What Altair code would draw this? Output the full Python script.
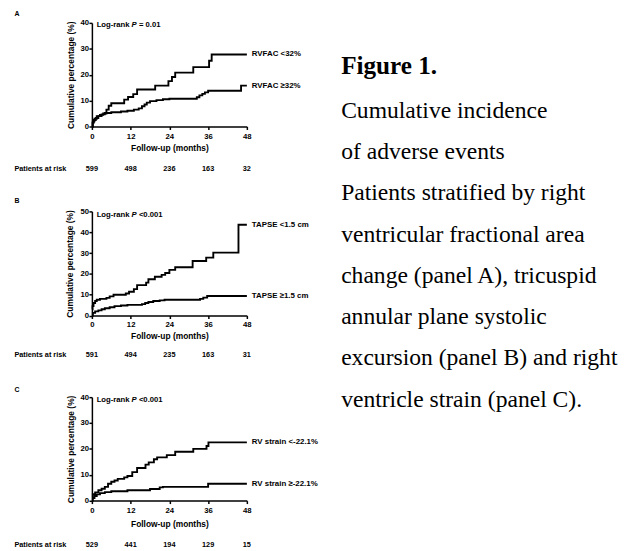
import altair as alt
import pandas as pd

# ---------------- data ----------------
month_ticks = [0, 12, 24, 36, 48]

# Panel A: RVFAC
a_names = ["RVFAC <32%", "RVFAC \u226532%"]
a_low_t = [0, 0.3, 0.8, 1.5, 2.5, 3.5, 4.5, 5.2, 6.0, 10.0, 11.2, 12.8, 14.0, 19.6, 23.7, 24.8, 25.8, 31.4, 36.3, 37.1, 48]
a_low_v = [0, 2, 3, 4, 4.5, 5, 6.5, 8, 9, 10.4, 11.4, 12.5, 14.3, 15.8, 17.5, 19.1, 20.8, 22.9, 25.4, 27.8, 27.8]
a_high_t = [0, 0.2, 0.6, 1.2, 2, 3, 4, 6, 9, 11, 13, 14.5, 15.5, 16.3, 17, 18, 20, 22, 24, 32.5, 33.3, 34.2, 35, 36, 46.2, 48]
a_high_v = [0, 1.5, 2.5, 3.3, 4, 4.7, 5.2, 5.5, 5.8, 6.1, 6.5, 7, 7.8, 8.5, 9.2, 9.8, 10.2, 10.5, 10.7, 11.3, 12, 12.6, 13.2, 13.8, 15.8, 15.8]
a_risk = [599, 498, 236, 163, 32]
a_p = "= 0.01"

# Panel B: TAPSE
b_names = ["TAPSE <1.5 cm", "TAPSE \u22651.5 cm"]
b_low_t = [0, 0.2, 0.5, 1, 1.5, 2.5, 4.5, 5.5, 6.7, 10.5, 11.5, 13, 14, 16.8, 17.5, 19.5, 21.6, 22.7, 24, 25.8, 31.2, 35.4, 37.6, 45.4, 48]
b_low_v = [3, 4.5, 6, 7, 7.6, 8, 8.5, 9.2, 10, 10.6, 11.4, 12.7, 14.6, 15.8, 17.4, 18.6, 19.5, 20.4, 21.9, 23.2, 26.2, 27.8, 30.2, 43.6, 43.6]
b_high_t = [0, 0.3, 1, 2, 3, 4, 5.5, 7, 9, 11, 15.5, 16.5, 17.5, 19, 21, 22.5, 33.5, 34.5, 35.7, 48]
b_high_v = [0, 1.3, 2, 2.5, 3, 3.5, 4, 4.5, 4.8, 5.1, 5.5, 6, 6.5, 7, 7.3, 7.6, 8, 8.6, 9.4, 9.4]
b_risk = [591, 494, 235, 163, 31]
b_p = "<0.001"

# Panel C: RV strain
c_names = ["RV strain <-22.1%", "RV strain \u2265-22.1%"]
c_low_t = [0, 0.3, 1, 2, 3, 4, 5, 6, 7, 8, 10, 11, 12.5, 14, 16.6, 17.6, 19.2, 20.2, 23.2, 25.8, 31.4, 35.5, 36.1, 48]
c_low_v = [1.7, 2.5, 3.2, 4, 4.6, 5.3, 6.5, 7.3, 7.8, 8.4, 9, 9.5, 11, 12.6, 13.9, 14.8, 16, 16.7, 17.6, 18.9, 20, 21.1, 22.5, 22.5]
c_high_t = [0, 0.3, 0.8, 1.5, 2.5, 4, 6, 11, 18, 21, 22, 36, 48]
c_high_v = [0, 1, 1.8, 2.4, 2.9, 3.3, 3.6, 4, 4.5, 5.1, 5.3, 6.5, 6.5]
c_risk = [529, 441, 194, 129, 15]
c_p = "<0.001"

caption_title = "Figure 1."
caption_lines = [
    "Cumulative incidence",
    "of adverse events",
    "Patients stratified by right",
    "ventricular fractional area",
    "change (panel A), tricuspid",
    "annular plane systolic",
    "excursion (panel B) and right",
    "ventricle strain (panel C).",
]

SANS = "Liberation Sans"
SERIF = "Liberation Serif"
W = 157


def panel(letter, names, series, risk, ptext, ymax, yticks, h, letter_y, xlab_pad,
          xtitle_y, ytitle_x, risk_y, lr_y, extra=None):
    rows = []
    for nm, (t, v) in zip(names, series):
        for ti, vi in zip(t, v):
            rows.append({"g": nm, "t": ti, "v": vi})
    df = pd.DataFrame(rows)
    common_axis = dict(domainColor="black", domainWidth=1.5, tickColor="black", tickWidth=1.5,
                       tickSize=3, labelFont=SANS, labelFontWeight="bold", labelFontSize=7.8,
                       labelColor="black", titleFont=SANS, titleFontWeight="bold",
                       titleFontSize=8.5, titleColor="black", grid=False, labelFlush=False,
                       labelOverlap=False)
    x = alt.X("t:Q", scale=alt.Scale(domain=[0, 48], nice=False),
              axis=alt.Axis(values=month_ticks, title="Follow-up (months)", labelPadding=xlab_pad,
                            titleX=W / 2, titleY=xtitle_y, titleBaseline="middle", **common_axis))
    y = alt.Y("v:Q", scale=alt.Scale(domain=[0, ymax], nice=False),
              axis=alt.Axis(values=yticks, title="Cumulative percentage (%)", labelPadding=0.5,
                            titleX=ytitle_x, titleY=h / 2, titleAngle=270, titleAlign="center",
                            titleBaseline="middle", **common_axis))
    lines = alt.Chart(df).mark_line(interpolate="step-after", color="black", strokeWidth=1.9).encode(
        x=x, y=y, detail="g:N")

    lab_df = pd.DataFrame({"g": names, "t": [48, 48], "v": [series[0][1][-1], series[1][1][-1]]})
    labs = alt.Chart(lab_df).mark_text(align="left", baseline="middle", dx=5, font=SANS,
                                       fontWeight="bold", fontSize=8, color="black").encode(
        x=x, y=y, text="g:N")

    one = pd.DataFrame({"a": [0]})
    tstyle = dict(font=SANS, fontWeight="bold", color="black", baseline="middle", align="left")
    lr1 = alt.Chart(one).mark_text(text="Log-rank", fontSize=7.8, **tstyle).encode(
        x=alt.value(4.8), y=alt.value(lr_y))
    lr2 = alt.Chart(one).mark_text(text="P", fontSize=7.8, fontStyle="italic", **tstyle).encode(
        x=alt.value(40.2), y=alt.value(lr_y))
    lr3 = alt.Chart(one).mark_text(text=ptext, fontSize=7.8, **tstyle).encode(
        x=alt.value(47.6), y=alt.value(lr_y))
    let = alt.Chart(one).mark_text(text=letter, fontSize=7, **tstyle).encode(
        x=alt.value(-78.5), y=alt.value(letter_y))
    par = alt.Chart(one).mark_text(text="Patients at risk", fontSize=7.4, **tstyle).encode(
        x=alt.value(-78.5), y=alt.value(risk_y))
    risk_df = pd.DataFrame({"t": month_ticks, "n": [str(r) for r in risk]})
    rk = alt.Chart(risk_df).mark_text(font=SANS, fontWeight="bold", fontSize=7.4, color="black",
                                      baseline="middle", align="center").encode(
        x=x, y=alt.value(risk_y), text="n:N")
    layers = [lines, labs, lr1, lr2, lr3, let, par, rk]
    if extra:
        layers += extra
    return alt.layer(*layers).properties(width=W, height=h)


one = pd.DataFrame({"a": [0]})
cap_title = alt.Chart(one).mark_text(text=caption_title, font=SERIF, fontWeight="bold", fontSize=25.5,
                                     color="black", align="left", baseline="alphabetic").encode(
    x=alt.value(252.5), y=alt.value(51.8))
cap_body = alt.Chart(one).mark_text(text=caption_lines, font=SERIF, fontSize=23.9, color="black",
                                    align="left", baseline="alphabetic", lineHeight=41.85).encode(
    x=alt.value(252.5), y=alt.value(96.0))

pA = panel("A", a_names, [(a_low_t, a_low_v), (a_high_t, a_high_v)], a_risk, a_p, 40,
           [0, 10, 20, 30, 40], 105, -9, 3, 21.5, -21.5, 148.3, 2.6, extra=[cap_title, cap_body])
pB = panel("B", b_names, [(b_low_t, b_low_v), (b_high_t, b_high_v)], b_risk, b_p, 50,
           [0, 10, 20, 30, 40, 50], 105.5, -10.7, 2.5, 20.2, -22.5, 145.7, 4)
pC = panel("C", c_names, [(c_low_t, c_low_v), (c_high_t, c_high_v)], c_risk, c_p, 40,
           [0, 10, 20, 30, 40], 104.8, -7.4, 3, 22.8, -21.5, 150.0, 2.6)

inner = alt.vconcat(pB, pC, spacing=82.2, bounds="flush")
chart = alt.vconcat(pA, inner, spacing=86.0, bounds="flush").properties(
    padding={"left": 6, "top": -1.5, "right": 0, "bottom": 0}
).configure(
    background="white",
    view=alt.ViewConfig(stroke=None),
    axis=alt.AxisConfig(labelOverlap=False),
)

chart.save("out.html", embed_options={"renderer": "svg", "actions": False})
